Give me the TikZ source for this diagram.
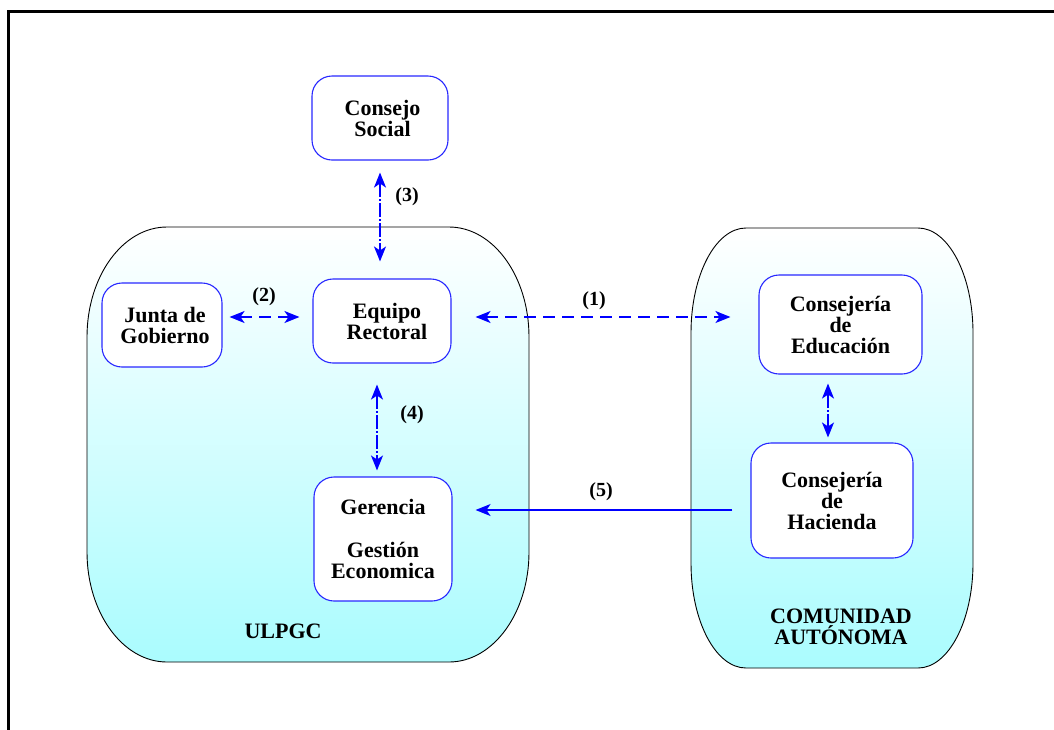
\documentclass[tikz,border=0pt]{standalone}
\usepackage{fontspec}
\setmainfont{Liberation Serif}
\usetikzlibrary{arrows.meta}
\definecolor{arrblue}{RGB}{0,0,255}
\definecolor{boxblue}{RGB}{40,40,255}
\definecolor{cyanbot}{RGB}{170,252,254}
\tikzset{btip/.tip={Stealth[length=15pt, width=12pt, inset=4pt]}}
\begin{document}
\begin{tikzpicture}[x=1pt,y=-1pt,
  box/.style={draw=boxblue, line width=1.1pt, fill=white, rounded corners=20pt,
    align=center, inner sep=0pt, font=\fontsize{22}{21}\selectfont\bfseries},
  lab/.style={font=\fontsize{20}{20}\selectfont\bfseries, inner sep=0pt},
  big/.style={font=\fontsize{22}{21}\selectfont\bfseries, inner sep=0pt, align=center},
  cont/.style={draw=black, line width=0.9pt, top color=white, bottom color=cyanbot},
  dashconn/.style={draw=arrblue, line width=1.3pt, dash pattern=on 12pt off 7pt, btip-btip},
  dotconn/.style={draw=arrblue, line width=1.3pt, dash pattern=on 14pt off 2pt on 2pt off 2pt, btip-btip},
  solconn/.style={draw=arrblue, line width=1.3pt, -btip}]
\useasboundingbox (0,0) rectangle (1054,729);
% frame
\draw[line width=3pt] (8.5,740) -- (8.5,11.5) -- (1060,11.5);
% containers
\path[cont] (167,227) -- (449,227)
  arc[start angle=90, end angle=0, x radius=80pt, y radius=110pt]
  -- (529,552)
  arc[start angle=0, end angle=-90, x radius=80pt, y radius=110pt]
  -- (167,662)
  arc[start angle=-90, end angle=-180, x radius=80pt, y radius=110pt]
  -- (87,337)
  arc[start angle=180, end angle=90, x radius=80pt, y radius=110pt] -- cycle;
\path[cont] (746,228) -- (918,228)
  arc[start angle=90, end angle=0, x radius=55pt, y radius=105pt]
  -- (973,563)
  arc[start angle=0, end angle=-90, x radius=55pt, y radius=105pt]
  -- (746,668)
  arc[start angle=-90, end angle=-180, x radius=55pt, y radius=105pt]
  -- (691,333)
  arc[start angle=180, end angle=90, x radius=55pt, y radius=105pt] -- cycle;
% boxes
\node[box, minimum width=136pt, minimum height=84pt] (cs) at (380,118) {\hspace*{5pt}Consejo\\\hspace*{5pt}Social};
\node[box, minimum width=120pt, minimum height=84pt] (jg) at (162,325) {\hspace*{6pt}Junta de\\\hspace*{6pt}Gobierno};
\node[box, minimum width=138pt, minimum height=84pt] (er) at (382,321) {\hspace*{10pt}Equipo\\\hspace*{10pt}Rectoral};
\node[box, minimum width=138pt, minimum height=124pt] (ge) at (383,539) {Gerencia\\[22pt]Gestión\\Economica};
\node[box, minimum width=163pt, minimum height=99pt] (ce) at (840.5,324.5) {Consejería\\de\\Educación};
\node[box, minimum width=162pt, minimum height=115pt] (ch) at (832,500.5) {Consejería\\de\\Hacienda};
% container labels
\node[big] (ulpgc) at (283,631) {ULPGC};
\node[big] (ca) at (841,627) {COMUNIDAD\\AUTÓNOMA};
% connectors
\path[dotconn, shorten <=12pt, shorten >=17pt] (cs.south) -- (cs.south |- er.north);
\path[dashconn, shorten <=7pt, shorten >=13pt] ([yshift=8pt]jg.east) -- ([yshift=4pt]er.west);
\path[dotconn, shorten <=21pt, shorten >=6pt] ([xshift=-5pt]er.south) -- ([xshift=-6pt]ge.north);
\path[dashconn, shorten <=24pt, shorten >=28pt] ([yshift=4pt]er.east) -- ([yshift=7.5pt]ce.west);
\path[dotconn, shorten <=9pt, shorten >=5pt] ([xshift=-12.5pt]ce.south) -- ([xshift=-4pt]ch.north);
\path[solconn, shorten <=18pt, shorten >=23pt] ([yshift=-9.5pt]ch.west) -- ([yshift=29pt]ge.east);
% connector labels
\node[lab] (l1) at (594,301) {(1)};
\node[lab] (l2) at (264,297) {(2)};
\node[lab] (l3) at (407,197) {(3)};
\node[lab] (l4) at (412,415) {(4)};
\node[lab] (l5) at (601,492) {(5)};
\end{tikzpicture}
\end{document}
